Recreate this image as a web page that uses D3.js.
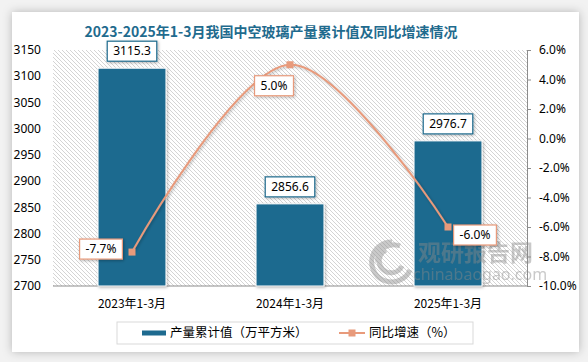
<!DOCTYPE html>
<html>
<head>
<meta charset="utf-8">
<script src="https://cdn.jsdelivr.net/npm/d3@7"></script>
<style>
  body{margin:0;background:#fff;}
  svg text{font-family:"Noto Sans","Noto Sans CJK SC",sans-serif;}
</style>
</head>
<body>
<svg id="chart" width="588" height="362"></svg>
<script>
// data
var categories = ["2023年1-3月", "2024年1-3月", "2025年1-3月"];
var output = [3115.3, 2856.6, 2976.7];      // 万平方米
var growth = [-7.7, 5.0, -6.0];             // %
var leftTicks = [2700, 2750, 2800, 2850, 2900, 2950, 3000, 3050, 3100, 3150];
var rightTicks = [-10, -8, -6, -4, -2, 0, 2, 4, 6];

var W = 588, H = 362;
var plotL = 53, plotR = 527, plotT = 50, plotB = 286;
var barColor = "#1d6a8f";
var lineColor = "#e89a7b";

var svg = d3.select("svg#chart");
var defs = svg.append("defs");

// page shadow
var sh = defs.append("filter").attr("id","cardshadow").attr("x","-10%").attr("y","-10%").attr("width","120%").attr("height","120%");
sh.append("feDropShadow").attr("dx",0).attr("dy",0).attr("stdDeviation",5).attr("flood-color","#000").attr("flood-opacity",0.25);
var bs = defs.append("filter").attr("id","barshadow").attr("x","-20%").attr("y","-20%").attr("width","140%").attr("height","140%");
bs.append("feDropShadow").attr("dx",1).attr("dy",1).attr("stdDeviation",1.5).attr("flood-color","#000").attr("flood-opacity",0.3);

var hatch = defs.append("pattern").attr("id","hatch").attr("patternUnits","userSpaceOnUse")
  .attr("width",4).attr("height",4);
hatch.append("path").attr("d","M0,0 L4,4 M-1,3 L1,5 M3,-1 L5,1")
  .attr("stroke","#d4d4d4").attr("stroke-width",1);

svg.append("rect").attr("x",0).attr("y",0).attr("width",W).attr("height",H).attr("fill","#f2f2f2");
svg.append("rect").attr("x",12).attr("y",12).attr("width",567).attr("height",340)
  .attr("fill","#fff").attr("filter","url(#cardshadow)");

// title
svg.append("text")
  .text("2023-2025年1-3月我国中空玻璃产量累计值及同比增速情况")
  .attr("x",271).attr("y",37)
  .attr("text-anchor","middle")
  .attr("fill","#1f6b8e")
  .attr("style","font-size:14px;font-weight:bold;font-family:'Noto Sans CJK SC',sans-serif;");

// scales
var xScale = d3.scaleBand().domain(categories).range([plotL, plotR]).paddingInner(0).paddingOuter(0);
var yLeft = d3.scaleLinear().domain([2700, 3150]).range([plotB, plotT]);
var yRight = d3.scaleLinear().domain([-10, 6]).range([plotB, plotT]);
var barW = xScale.bandwidth() * 0.43;

// plot background
svg.append("rect").attr("x",plotL).attr("y",plotT).attr("width",plotR-plotL).attr("height",plotB-plotT)
  .attr("fill","url(#hatch)");

// left axis labels
svg.append("g").selectAll("text.ylabel")
  .data(leftTicks).enter()
  .append("text")
  .attr("class","ylabel")
  .text(function(d){ return d; })
  .attr("x",41)
  .attr("y",function(d){ return yLeft(d); })
  .attr("dy","0.35em")
  .attr("text-anchor","end")
  .attr("fill","#000")
  .attr("style","font-size:12px");

// right axis
var rAxis = d3.axisRight(yRight).tickValues(rightTicks).tickSize(4)
  .tickFormat(function(d){ return d.toFixed(1) + "%"; });
var rg = svg.append("g").attr("transform","translate(" + plotR + ",0)").call(rAxis);
rg.select(".domain").attr("stroke","#8c8c8c");
rg.selectAll(".tick line").attr("stroke","#8c8c8c");
rg.selectAll(".tick text").attr("x",12).attr("fill","#000")
  .attr("style","font-size:12px;font-family:'Noto Sans',sans-serif;");

// bottom axis line
svg.append("line").attr("x1",plotL).attr("x2",plotR).attr("y1",plotB).attr("y2",plotB)
  .attr("stroke","#8c8c8c");

// x labels
svg.append("g").selectAll("text.xlabel")
  .data(categories).enter()
  .append("text")
  .attr("class","xlabel")
  .text(function(d){ return d; })
  .attr("x",function(d){ return xScale(d) + xScale.bandwidth()/2; })
  .attr("y",308)
  .attr("text-anchor","middle")
  .attr("fill","#000")
  .attr("style","font-size:12px;font-family:'Noto Sans CJK SC',sans-serif;");

// bars
svg.append("g").selectAll("rect.bar")
  .data(output).enter()
  .append("rect")
  .attr("class","bar")
  .attr("x",function(d,i){ return xScale(categories[i]) + xScale.bandwidth()/2 - barW/2; })
  .attr("y",function(d){ return yLeft(d); })
  .attr("width",barW)
  .attr("height",function(d){ return plotB - yLeft(d); })
  .attr("fill",barColor)
  .attr("stroke","#fff")
  .attr("stroke-width",1)
  .attr("filter","url(#barshadow)");

// watermark (over the bars, under the labels)
var wm = svg.append("g").attr("opacity",0.45).attr("fill","#8a8a8a");
wm.append("path")
  .attr("d","M392,242 A20,20 0 1,0 410,270 M386,250 A12,12 0 1,0 402,266 M378,262 A16,14 0 0,1 400,246")
  .attr("fill","none").attr("stroke","#8a8a8a").attr("stroke-width",5);
wm.append("text").text("观研报告网").attr("x",418).attr("y",261)
  .attr("style","font-size:23px;font-weight:bold;font-family:'Noto Sans CJK SC',sans-serif;");
wm.append("text").text("chinabaogao.com").attr("x",413).attr("y",280)
  .attr("style","font-size:16px;");

// line
var pts = growth.map(function(d,i){
  return [xScale(categories[i]) + xScale.bandwidth()/2, yRight(d)];
});
svg.append("path")
  .attr("d", d3.line().curve(d3.curveCatmullRom.alpha(0.5))(pts))
  .attr("fill","none")
  .attr("stroke",lineColor)
  .attr("stroke-width",2)
  .attr("filter","url(#barshadow)");
svg.append("g").selectAll("rect.pt")
  .data(pts).enter()
  .append("rect")
  .attr("class","pt")
  .attr("x",function(d){ return d[0]-3.5; })
  .attr("y",function(d){ return d[1]-3.5; })
  .attr("width",7).attr("height",7)
  .attr("fill",lineColor);

// label boxes
function labelBox(txt, cx, cy, border){
  var g = svg.append("g");
  var r = g.append("rect");
  var t = g.append("text").text(txt)
    .attr("x",cx).attr("y",cy).attr("dy","0.35em")
    .attr("text-anchor","middle").attr("fill","#000")
    .attr("style","font-size:12px");
  var w = t.node().getComputedTextLength() + 12;
  r.attr("x",cx - w/2).attr("y",cy - 10).attr("width",w).attr("height",20)
    .attr("fill","#fff").attr("stroke",border).attr("stroke-width",1.2)
    .attr("filter","url(#barshadow)");
}

output.forEach(function(d,i){
  var cx = xScale(categories[i]) + xScale.bandwidth()/2;
  labelBox(d.toFixed(1), cx, yLeft(d) - 17, "#1f6b8e");
});

// offsets of the growth labels relative to their points
var gOff = [[-31, -3], [-16, 21], [27, 8]];
growth.forEach(function(d,i){
  labelBox(d.toFixed(1) + "%", pts[i][0] + gOff[i][0], pts[i][1] + gOff[i][1], lineColor);
});

// legend
var lg = svg.append("g");
lg.append("rect").attr("x",117).attr("y",322).attr("width",356).attr("height",22)
  .attr("fill","#fff").attr("stroke","#d9d9d9");
lg.append("rect").attr("x",142).attr("y",330.5).attr("width",24).attr("height",5).attr("fill",barColor);
lg.append("text").text("产量累计值（万平方米）").attr("x",170).attr("y",333).attr("dy","0.35em")
  .attr("style","font-size:12.5px;font-family:'Noto Sans CJK SC',sans-serif;");
lg.append("line").attr("x1",339).attr("x2",365).attr("y1",333).attr("y2",333)
  .attr("stroke",lineColor).attr("stroke-width",2);
lg.append("rect").attr("x",348.5).attr("y",329.5).attr("width",7).attr("height",7).attr("fill",lineColor);
lg.append("text").text("同比增速（%）").attr("x",369).attr("y",333).attr("dy","0.35em")
  .attr("style","font-size:12.5px;font-family:'Noto Sans CJK SC',sans-serif;");
</script>
</body>
</html>
